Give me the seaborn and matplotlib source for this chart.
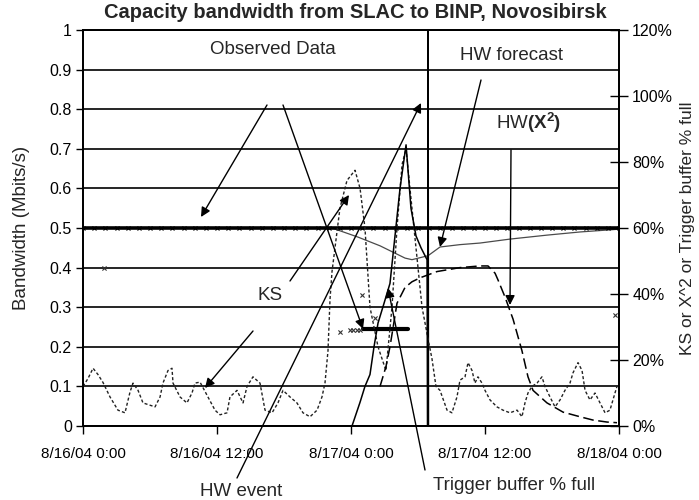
import matplotlib
matplotlib.use("Agg")
import matplotlib.pyplot as plt
import seaborn as sns
import pandas as pd
import numpy as np

sns.set_style("ticks")
plt.rcParams['font.family'] = ['Liberation Sans', 'DejaVu Sans']
plt.rcParams['mathtext.fontset'] = 'custom'
plt.rcParams['mathtext.rm'] = 'Liberation Sans'
plt.rcParams['mathtext.bf'] = 'Liberation Sans:bold'
plt.rcParams['mathtext.it'] = 'Liberation Sans:italic'

# ---------------- data (hours after 8/16/04 0:00) ----------------
title = "Capacity bandwidth from SLAC to BINP, Novosibirsk"
x_tick_hours = [0, 12, 24, 36, 48]
x_tick_labels = ["8/16/04 0:00", "8/16/04 12:00", "8/17/04 0:00", "8/17/04 12:00", "8/18/04 0:00"]
left_ticks = [0, 0.1, 0.2, 0.3, 0.4, 0.5, 0.6, 0.7, 0.8, 0.9, 1.0]
left_labels = ["0", "0.1", "0.2", "0.3", "0.4", "0.5", "0.6", "0.7", "0.8", "0.9", "1"]
right_ticks = [0, 20, 40, 60, 80, 100, 120]
right_labels = ["0%", "20%", "40%", "60%", "80%", "100%", "120%"]

# Observed data (Mbits/s)
obs_hours = [0, 1, 2, 3, 4, 5, 6, 7, 8, 9, 10, 11, 12, 13, 14, 15, 16, 17, 18, 19, 20,
             21, 22, 23, 24, 25, 26, 27, 28, 29, 30, 31, 32, 33, 34, 35, 36, 37, 38, 39,
             40, 41, 42, 43, 44, 45, 46, 47, 48]
obs_mbps = [0.5, 0.5, 0.5, 0.5, 0.5, 0.5, 0.5, 0.5, 0.5, 0.5, 0.5, 0.5, 0.5, 0.5, 0.5,
            0.5, 0.5, 0.5, 0.5, 0.5, 0.5, 0.5, 0.5, 0.5, 0.5, 0.5, 0.5, 0.5, 0.5, 0.5,
            0.5, 0.5, 0.5, 0.5, 0.5, 0.5, 0.5, 0.5, 0.5, 0.5, 0.5, 0.5, 0.5, 0.5, 0.5,
            0.5, 0.5, 0.5, 0.5]
obs_drop_hours = [25.1, 26.0, 27.0, 28.0, 29.1]
obs_drop_mbps = [0.245, 0.245, 0.245, 0.245, 0.245]
obs_out_hours = [1.9, 23.0, 23.9, 24.2, 24.5, 24.8, 25.0, 26.15, 47.6]
obs_out_mbps = [0.40, 0.237, 0.242, 0.242, 0.242, 0.242, 0.33, 0.273, 0.28]

# Holt-Winters forecast (Mbits/s)
fc_hours = [0, 22.3, 24.63, 26.6, 28.84, 29.46, 30.9, 31.97, 33.76, 35.55, 38.24,
            41.55, 44.51, 48.0]
fc_mbps = [0.5, 0.5, 0.477, 0.455, 0.424, 0.42, 0.43, 0.452, 0.458, 0.462, 0.472,
           0.482, 0.49, 0.497]

# HW event flag (0/1 on left axis)
ev_hours = [0, 30.87, 30.9, 30.93, 48]
ev_flag = [0, 0, 1, 0, 0]

# KS statistic (% on right axis)
ks_hours = [0.0, 0.45, 0.9, 1.34, 1.79, 2.42, 3.13, 3.76, 4.21, 4.48, 4.93, 5.37, 6.45,
            6.9, 7.16, 7.61, 7.97, 8.06, 8.69, 9.31, 9.76, 10.03, 10.48, 11.19, 11.82,
            12.27, 12.9, 13.16, 13.79, 14.33, 14.69, 15.22, 15.85, 16.3, 16.93, 17.46,
            17.91, 18.54, 19.16, 19.7, 20.33, 20.96, 21.4, 21.67, 21.94, 22.12, 22.3,
            23.01, 23.64, 24.36, 24.81, 25.25, 25.7, 26.42, 27.13, 27.67, 28.12, 28.57,
            28.93, 29.28, 29.64, 30.0, 30.36, 30.9, 31.25, 31.61, 31.97, 32.6, 33.04,
            33.49, 33.76, 34.21, 34.48, 34.84, 35.1, 35.37, 35.73, 36.0, 36.45, 37.07,
            37.61, 38.24, 38.87, 39.31, 39.58, 39.85, 40.21, 40.66, 41.1, 41.37, 41.82,
            42.27, 42.72, 43.16, 43.61, 43.88, 44.33, 44.69, 44.96, 45.4, 45.85, 46.3,
            46.75, 47.19, 47.64, 47.82]
ks_pct = [12.0, 14.4, 17.5, 15.6, 13.2, 8.8, 4.8, 4.0, 10.3, 13.0, 10.8, 7.0, 5.8,
          8.8, 13.0, 16.8, 17.5, 13.0, 8.8, 7.0, 10.0, 13.0, 13.3, 8.8, 4.8,
          3.4, 4.0, 8.8, 10.8, 7.0, 12.0, 14.9, 13.0, 4.8, 4.0, 7.0,
          10.8, 8.8, 7.0, 4.0, 2.8, 4.8, 8.8, 13.0, 22.8, 38.4, 46.8,
          66.0, 74.4, 77.5, 72.0, 60.0, 36.0, 24.0, 16.8, 36.0, 60.0, 79.2,
          84.0, 72.0, 60.0, 48.0, 36.0, 26.4, 20.4, 12.0, 10.8, 4.8, 4.0,
          8.8, 13.9, 14.9, 19.2, 16.8, 13.0, 14.9, 13.0, 10.8, 7.9, 5.8,
          4.8, 4.0, 4.8, 2.8, 7.0, 10.0, 12.0, 13.0, 14.9, 12.0, 8.8,
          5.8, 7.9, 10.8, 13.0, 16.1, 19.2, 16.8, 10.8, 7.9, 10.0, 7.0,
          4.0, 4.8, 10.0, 12.0]

# HW (X^2) statistic (% on right axis)
x2_hours = [26.6, 27.13, 27.49, 28.12, 28.84, 29.46, 30.18, 31.7, 33.76, 35.55, 36.27,
            36.9, 37.16, 37.79, 38.51, 39.31, 39.85, 40.3, 41.55, 42.99, 44.51, 45.67,
            46.92, 47.82]
x2_pct = [12.0, 18.0, 24.0, 37.2, 42.0, 43.7, 44.9, 46.8, 48.0, 48.5, 48.5,
          46.3, 44.3, 39.1, 32.4, 22.8, 14.9, 10.8, 7.0, 4.2, 2.8, 1.8,
          1.2, 1.0]

# Trigger buffer % full (% on right axis)
trig_hours = [0, 24.09, 24.45, 24.81, 25.25, 25.7, 26.06, 26.42, 26.96, 27.49, 27.94,
              28.39, 28.93, 29.37, 29.82, 30.27, 30.81, 30.86, 48]
trig_pct = [0, 0, 3.6, 7.2, 12.0, 15.6, 24.0, 31.2, 37.2, 43.2, 57.6,
            72.0, 85.2, 66.0, 57.6, 54.0, 50.4, 0, 0]

# ---------------- plotting ----------------
START = pd.Timestamp("2004-08-16 00:00")


def t(hours):
    return START + pd.to_timedelta(np.asarray(hours, dtype=float), unit="h")


W, H = 699, 500
fig = plt.figure(figsize=(W / 100, H / 100), dpi=100)
ax = fig.add_axes([83 / W, 74 / H, 536 / W, 396 / H])
ax2 = ax.twinx()

# left-axis series
sns.lineplot(x=t(fc_hours), y=fc_mbps, ax=ax, color="#4a4a4a", lw=0.9,
             estimator=None, sort=False, zorder=2)
sns.lineplot(x=t(obs_hours), y=obs_mbps, ax=ax, color="black", lw=2.6,
             marker="x", markersize=3, mew=0.8, mec="black", estimator=None,
             sort=False, zorder=3)
sns.lineplot(x=t(obs_drop_hours), y=obs_drop_mbps, ax=ax, color="black", lw=3.0,
             estimator=None, sort=False, zorder=3)
sns.scatterplot(x=t(obs_out_hours), y=obs_out_mbps, ax=ax, color="#333333",
                marker="x", s=9, linewidth=0.8, zorder=3)
sns.lineplot(x=t(ev_hours), y=ev_flag, ax=ax, color="black", lw=1.2,
             estimator=None, sort=False, zorder=3)

# right-axis series
sns.lineplot(x=t(ks_hours), y=ks_pct, ax=ax2, color="#222222", lw=1.0,
             linestyle=(0, (2.2, 1.6)), estimator=None, sort=False)
sns.lineplot(x=t(x2_hours), y=x2_pct, ax=ax2, color="black", lw=1.1,
             linestyle=(0, (7, 3)), estimator=None, sort=False)
sns.lineplot(x=t(trig_hours), y=trig_pct, ax=ax2, color="black", lw=1.1,
             estimator=None, sort=False)

# axes styling
ax.set_xlim(t([0])[0], t([48])[0])
ax.set_ylim(0, 1)
ax2.set_ylim(0, 120)
ax.set_xticks(t(x_tick_hours))
ax.set_xticklabels(x_tick_labels)
ax.set_yticks(left_ticks)
ax.set_yticklabels(left_labels)
ax2.set_yticks(right_ticks)
ax2.set_yticklabels(right_labels)

ax.yaxis.grid(True, color="black", lw=1.2)
ax.xaxis.grid(False)
ax.set_axisbelow(True)

for a in (ax, ax2):
    for sp in a.spines.values():
        sp.set_color("black")
        sp.set_linewidth(1.3)
        sp.set_visible(True)

ax.tick_params(axis="y", direction="out", length=5, width=1, labelsize=11.5, pad=3,
               colors="black")
ax.tick_params(axis="x", direction="out", length=6, width=1, labelsize=11, pad=9,
               colors="black")
ax2.tick_params(axis="y", direction="inout", length=13, width=1, labelsize=11.5,
                pad=3, colors="black")

ax.set_xlabel("")
ax.set_ylabel("Bandwidth (Mbits/s)", fontsize=13.5, labelpad=14)
ax2.set_ylabel("KS or X^2 or Trigger buffer % full", fontsize=12.5, labelpad=5)

fig.text(355 / W, 1 - 13 / H, title, ha="center", va="center", fontsize=14.5,
         weight="bold")

# annotation labels (image pixel positions)
labels = [
    ("Observed Data", 273, 49),
    ("HW forecast", 512, 55),
    (r"HW$\mathbf{(X^{2})}$", 529, 123),
    ("KS", 270, 295),
    ("HW event", 241, 492),
    ("Trigger buffer % full", 514, 485),
]
for txt, px, py in labels:
    fig.text(px / W, 1 - py / H, txt, ha="center", va="center", fontsize=13.5)

arrows = [
    ((267, 105), (201, 217)),
    ((283, 105), (363, 329)),
    ((290, 281), (349, 195)),
    ((253, 331), (205, 388)),
    ((237, 478), (421, 103)),
    ((425, 470), (388, 288)),
    ((481, 80), (440, 247)),
    ((511, 150), (510, 305)),
]
for (x0, y0), (x1, y1) in arrows:
    ax2.annotate("", xy=(x1, H - y1), xycoords="figure pixels",
                 xytext=(x0, H - y0), textcoords="figure pixels",
                 arrowprops=dict(arrowstyle="-|>", color="black", lw=1.0,
                                 mutation_scale=14, shrinkA=0, shrinkB=0),
                 annotation_clip=False)

fig.savefig("out.png", dpi=100)
